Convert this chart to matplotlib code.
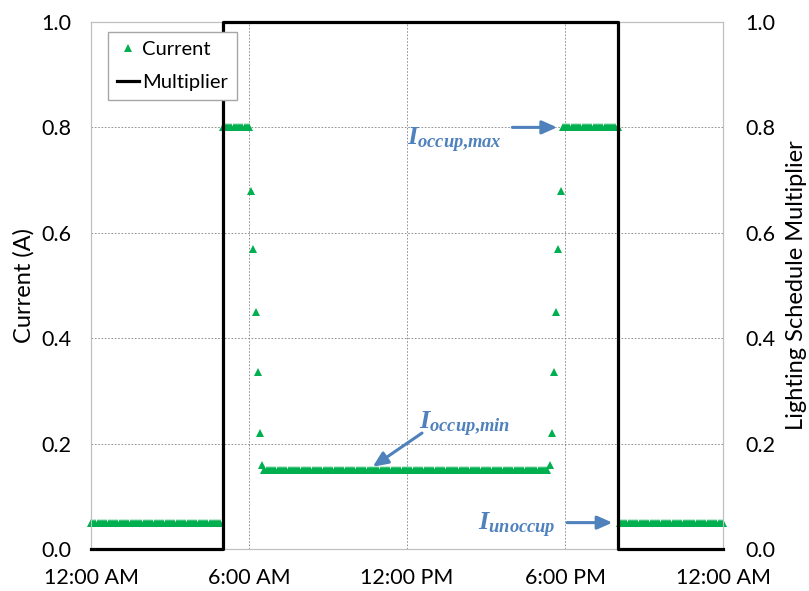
import numpy as np
import matplotlib
matplotlib.use('Agg')
import matplotlib.pyplot as plt

plt.rcParams['font.family'] = ['Lato', 'DejaVu Sans']
plt.rcParams['mathtext.fontset'] = 'custom'
plt.rcParams['mathtext.it'] = 'Liberation Serif:italic:bold'
plt.rcParams['mathtext.rm'] = 'Liberation Serif:bold'

# current readings every 5 min (hours of the day)
t_unocc_am = np.arange(0, 5, 5/60.)
t_max_am = np.arange(5, 6 + 1e-6, 5/60.)
t_dim_am = [6 + 5/60., 6 + 10/60., 6 + 15/60., 6 + 20/60., 6 + 25/60., 6 + 30/60.]
i_dim_am = [0.68, 0.57, 0.45, 0.335, 0.22, 0.16]
t_min = np.arange(6 + 35/60., 17 + 20/60. + 1e-6, 5/60.)
t_dim_pm = [17 + 25/60., 17 + 30/60., 17 + 35/60., 17 + 40/60., 17 + 45/60., 17 + 50/60.]
i_dim_pm = [0.16, 0.22, 0.335, 0.45, 0.57, 0.68]
t_max_pm = np.arange(17 + 55/60., 20 + 1e-6, 5/60.)
t_unocc_pm = np.arange(20 + 5/60., 24 + 1e-6, 5/60.)

i_unocc = 0.05
i_occ_max = 0.8
i_occ_min = 0.15

t_cur = np.concatenate([t_unocc_am, t_max_am, t_dim_am, t_min, t_dim_pm, t_max_pm, t_unocc_pm])
i_cur = np.concatenate([np.full(len(t_unocc_am), i_unocc), np.full(len(t_max_am), i_occ_max),
                        i_dim_am, np.full(len(t_min), i_occ_min), i_dim_pm,
                        np.full(len(t_max_pm), i_occ_max), np.full(len(t_unocc_pm), i_unocc)])

# lighting schedule multiplier
t_mult = [0, 5, 5, 20, 20, 24]
mult = [0, 0, 1, 1, 0, 0]

xticks = [0, 6, 12, 18, 24]
xlabels = ['12:00 AM', '6:00 AM', '12:00 PM', '6:00 PM', '12:00 AM']

fnt = 15.5
green = '#00B050'
blue = '#4F81BD'

fig = plt.figure(figsize=(8.09, 5.91), dpi=100)
ax1 = fig.add_axes([0.1125, 0.0711, 0.7812, 0.8917])
ax1.plot(t_cur, i_cur, ls='none', marker='^', ms=5.5, mew=0, color=green, clip_on=False, zorder=3)
ax1.set_xlim(0, 24)
ax1.set_ylim(0, 1)
ax1.set_xticks(xticks)
ax1.set_xticklabels(xlabels, fontsize=fnt)
ax1.set_yticks(np.arange(0, 1.01, 0.2))
ax1.set_yticklabels(['%.1f' % v for v in np.arange(0, 1.01, 0.2)], fontsize=fnt)
ax1.tick_params(axis='y', length=0, pad=14)
ax1.tick_params(axis='x', length=0, pad=14)
ax1.grid(True, ls=(0, (2, 2)), color='#808080', lw=0.6)
ax1.set_ylabel('Current (A)', fontsize=17, labelpad=5)
for s in ax1.spines.values():
    s.set_color('#BFBFBF')

ax2 = ax1.twinx()
ax2.plot(t_mult, mult, color='k', lw=2.3, clip_on=False, zorder=4)
ax2.set_ylim(0, 1)
ax2.set_yticks(np.arange(0, 1.01, 0.2))
ax2.set_yticklabels(['%.1f' % v for v in np.arange(0, 1.01, 0.2)], fontsize=fnt)
ax2.tick_params(length=0, pad=16)
ax2.set_ylabel('Lighting Schedule Multiplier', fontsize=17, labelpad=8)
for s in ax2.spines.values():
    s.set_color('#BFBFBF')

h1 = plt.Line2D([], [], ls='none', marker='^', ms=5.5, mew=0, color=green)
h2 = plt.Line2D([], [], color='k', lw=2.3)
leg = ax2.legend([h1, h2], ['Current', 'Multiplier'], loc='upper left', bbox_to_anchor=(0.027, 0.981),
                 borderaxespad=0, fontsize=14.5, fancybox=False, edgecolor='#A6A6A6', framealpha=1,
                 numpoints=1, handlelength=1.1, handletextpad=0.15, labelspacing=0.8, borderpad=0.45)
leg.set_zorder(10)

# annotations
arr = dict(arrowstyle='-|>,head_length=0.9,head_width=0.4', color=blue, lw=2.2, shrinkA=0, shrinkB=0)
ax2.text(12.0, 0.765, r'$I_{occup{,}max}$', color=blue, fontsize=19, ha='left', va='baseline')
ax2.annotate('', xy=(17.7, 0.8), xytext=(16.0, 0.8), arrowprops=arr)
ax2.text(12.45, 0.226, r'$I_{occup{,}min}$', color=blue, fontsize=19, ha='left', va='baseline')
ax2.annotate('', xy=(10.7, 0.156), xytext=(12.57, 0.22), arrowprops=arr)
ax2.text(14.7, 0.036, r'$I_{unoccup}$', color=blue, fontsize=19, ha='left', va='baseline')
ax2.annotate('', xy=(19.8, 0.05), xytext=(18.08, 0.05), arrowprops=arr)

fig.savefig('out.png', dpi=100)
